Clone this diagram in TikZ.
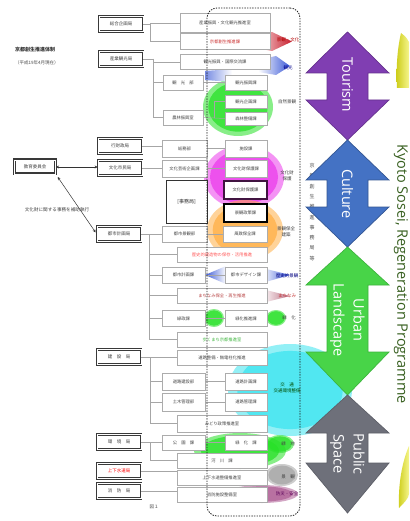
\documentclass[tikz,border=0pt]{standalone}
\usepackage{fontspec}
\setmainfont{Open Sans}
\newfontfamily\jp{Noto Sans CJK JP}
\usetikzlibrary{arrows.meta}
\definecolor{bgreen}{RGB}{40,225,40}
\definecolor{bmag}{RGB}{235,60,235}
\definecolor{borange}{RGB}{255,175,70}
\definecolor{bcyan}{RGB}{60,228,240}
\definecolor{bblue}{RGB}{60,90,215}
\definecolor{bred}{RGB}{200,30,45}
\definecolor{bpink}{RGB}{185,110,130}
\definecolor{bgray}{RGB}{165,165,165}
\definecolor{bpurple}{RGB}{175,95,150}
\definecolor{tourism}{RGB}{128,62,178}
\definecolor{culture}{RGB}{68,114,196}
\definecolor{urban}{RGB}{72,212,72}
\definecolor{public}{RGB}{110,112,122}
\definecolor{kyoto}{RGB}{56,96,32}
\definecolor{ylw}{RGB}{205,205,25}
\definecolor{ylwl}{RGB}{245,245,140}
\newcommand\myblob[4]{\fill[#1,opacity=.55] (#2) ellipse [x radius=#3, y radius=#4];
  \fill[#1,opacity=.75] (#2) ellipse [x radius=#3*0.85, y radius=#4*0.85];}
\begin{document}
\begin{tikzpicture}[x=1pt,y=-1pt,
  mbox/.style={draw=gray!65, line width=0.5pt, fill=white, inner sep=0pt, font=\jp\fontsize{4.3}{5}\selectfont, text=gray!55!black},
  wbox/.style={mbox, minimum width=90pt, minimum height=15pt},
  sbox/.style={mbox, minimum width=43pt, minimum height=16pt},
  rbox/.style={mbox, minimum width=42pt, minimum height=16pt},
  lbox/.style={draw=gray!45!black, line width=0.65pt, double=white, double distance=0.8pt, fill=white, minimum width=44pt, minimum height=15pt, inner sep=0pt, font=\jp\fontsize{4.5}{5}\selectfont, text=gray!50!black},
  conn/.style={draw=gray!70, line width=0.5pt},
  lab/.style={font=\jp\fontsize{4.5}{5.5}\selectfont, inner sep=0pt, align=center, text=black!75},
  bigarr/.style={line width=0.7pt},
  atext/.style={text=white, rotate=-90, font=\fontsize{14.5}{20}\selectfont, align=center, inner sep=0pt},
]
\fill[white] (0,0) rectangle (409,521);
\useasboundingbox (0,0) rectangle (409,521);

% yellow decorative shapes
\shade[left color=ylw, right color=ylwl] (401,33) .. controls (397,50) and (396,70) .. (397,88) -- (409,88) -- (409,42) .. controls (406,37) .. (401,33) -- cycle;
\shade[left color=ylw, right color=ylwl] (409,446) .. controls (402,462) and (398,485) .. (399,508) .. controls (403,504) and (409,498) .. (409,494) -- cycle;

% vertical japanese column
\node[lab, font=\jp\fontsize{5}{10.3}\selectfont, text=black!70] (vt) at (312,212) {京\\都\\創\\生\\推\\進\\事\\務\\局\\等};

% blobs
\myblob{bcyan}{290,390}{62}{46}
\myblob{bgreen}{240,451}{46}{18}
\myblob{bgreen}{280,444}{14}{9}
\myblob{bgray}{282,475}{16}{11}
\myblob{bpurple}{262,494}{36}{9}
\myblob{bmag}{244,177}{40}{32}
\myblob{borange}{245,230}{38}{30}
\myblob{bgreen}{238,107}{35}{29}
\myblob{bgreen}{214,318}{10}{9}
\myblob{bgreen}{276,318}{10}{8}
\shade[left color=white, right color=bred] (250,36) -- (272,32) -- (292,41.5) -- (272,51) -- (250,47) -- cycle;
\shade[left color=white, right color=bblue] (258,60) -- (276,56) -- (290,66) -- (276,75) -- (258,72) -- cycle;
\shade[left color=bblue!70, right color=white] (205,71) -- (232,69) -- (232,82) -- (205,80) -- cycle;
\shade[left color=bblue, right color=white] (205,275) -- (226,266) -- (226,284) -- cycle;
\shade[left color=white, right color=bblue] (262,268) -- (290,275) -- (262,283) -- cycle;
\shade[left color=white, right color=bpink] (262,289) -- (290,296) -- (262,303) -- cycle;

% left column boxes
\node[lbox] (L1) at (121,24) {総合企画局};
\node[lbox] (L2) at (121,59) {産業観光局};
\node[lbox] (L3) at (120,146) {行財政局};
\node[lbox] (L4) at (120,168) {文化市民局};
\node[lbox] (L5) at (119,234) {都市計画局};
\node[lbox] (L6) at (119,357) {建　設　局};
\node[lbox] (L7) at (119,442) {環　境　局};
\node[lbox, text=red] (L8) at (119,471) {上下水道局};
\node[lbox] (L9) at (119,491) {消　防　局};
\node[lbox, line width=1.1pt, minimum width=41pt, minimum height=14pt] (T) at (35,167) {教育委員会};

% middle boxes
\node[wbox, minimum height=19pt] (A) at (225,23) {産業振興・文化観光推進室};
\node[wbox, minimum height=16pt, text=red!60!gray] (B) at (225,41.5) {京都創生推進課};
\node[wbox] (C) at (225,62) {観光振興・国際交流課};
\node[sbox, minimum width=40pt, minimum height=15pt] (D) at (183,82.5) {観　光　部};
\node[rbox, minimum height=15pt] (E) at (246,82.5) {観光振興課};
\node[rbox, minimum height=13pt] (F) at (246,101.5) {観光企画課};
\node[sbox, minimum width=40pt, minimum height=15pt] (G) at (183,117.5) {農林振興室};
\node[rbox, minimum height=13pt] (H) at (246,118.5) {森林整備課};
\node[sbox, minimum width=45pt, minimum height=17pt] (R1l) at (184.5,148.5) {総務部};
\node[rbox, minimum height=17pt] (R1r) at (246,148.5) {施設課};
\node[sbox, minimum width=45pt, minimum height=17pt] (R2l) at (184.5,168.5) {文化芸術企画課};
\node[rbox, minimum height=17pt] (R2r) at (246,168.5) {文化財保護課};
\node[mbox, minimum width=41pt, minimum height=43pt, draw=gray!40!black, text=black!80, font=\jp\fontsize{5}{6}\selectfont] (J) at (186.5,201.5) {[事務局]};
\node[mbox, minimum width=43pt, minimum height=18pt, line width=1.4pt, draw={rgb,255:red,65;green,20;blue,65}] (K1) at (245.5,190) {文化財保護課};
\node[mbox, minimum width=43pt, minimum height=18pt, line width=1.4pt, draw=black] (K2) at (245.5,213) {景観政策課};
\node[sbox, minimum width=45pt] (R3l) at (184.5,234) {都市景観部};
\node[rbox, minimum width=44pt] (R3r) at (245,234) {風致保全課};
\node[wbox, text=red!65] (W1) at (222,254.5) {歴史的建造物の保存・活用推進};
\node[sbox] (R4l) at (183.5,275) {都市計画課};
\node[rbox] (R4r) at (246,275) {都市デザイン課};
\node[wbox, text=red!45!gray] (W2) at (222,295.5) {まちなみ保全・再生推進};
\node[sbox] (R5l) at (183.5,318.5) {緑政課};
\node[rbox] (R5r) at (246,318.5) {緑化推進課};
\node[wbox, text=green!45!gray] (W3) at (222,339.5) {歩くまち京都推進室};
\node[wbox] (W4) at (222,357.5) {道路整備・無電柱化推進};
\node[sbox, minimum height=17pt] (R6l) at (183.5,381.5) {道路建設部};
\node[rbox, minimum height=17pt] (R6r) at (246,381.5) {道路計画課};
\node[sbox, minimum height=18pt] (R7l) at (183.5,402) {土木管理部};
\node[rbox, minimum height=18pt] (R7r) at (246,402) {道路管理課};
\node[wbox, minimum height=17pt] (W5) at (222,423.5) {みどり政策推進室};
\node[sbox, minimum height=15pt] (R8l) at (183.5,442.5) {公　園　課};
\node[rbox, minimum height=15pt] (R8r) at (246,442.5) {緑　化　課};
\node[wbox] (W6) at (222,460.5) {河　川　課};
\node[wbox] (W7) at (222,477.5) {上下水道整備推進室};
\node[wbox] (W8) at (222,494.5) {消防施設整備室};

% connectors
\coordinate (s1) at (150,24);
\draw[conn] (L1.east) -- (s1) |- (B.west);
\draw[conn] (s1) |- (A.west);
\coordinate (s2) at (153,59);
\draw[conn] (L2.east) -- (s2) |- (G.west);
\draw[conn] (s2) |- (C.west);
\draw[conn] (s2) |- (D.west);
\draw[conn] (D.east) -- (E.west);
\draw[conn] (G.east) -- (H.west);
\coordinate (g2) at (214,118.5);
\draw[conn] (g2) |- (F.west);
\draw[conn] (L3.east) -- (L3.east -| R1l.west);
\draw[conn] (R1l.east) -- (R1r.west);
\draw[conn] (L4.east) -- (L4.east -| R2l.west);
\draw[conn] (R2l.east) -- (R2r.west);
\coordinate (s5) at (149,234);
\draw[conn] (L5.east) -- (L5.east -| R3l.west);
\draw[conn] (R3l.east) -- (R3r.west);
\draw[conn] (s5) |- (W3.west);
\draw[conn] (s5) |- (W1.west);
\draw[conn] (s5) |- (R4l.west);
\draw[conn] (s5) |- (W2.west);
\draw[conn] (s5) |- (R5l.west);
\draw[conn] (R4l.east) -- (R4r.west);
\draw[conn] (R5l.east) -- (R5r.west);
\coordinate (s6) at (150,357.5);
\draw[conn] (L6.east) -- (L6.east -| W4.west);
\draw[conn] (s6) |- (W5.west);
\draw[conn] (s6) |- (R6l.west);
\draw[conn] (s6) |- (R7l.west);
\draw[conn] (R6l.east) -- (R6r.west);
\draw[conn] (R7l.east) -- (R7r.west);
\coordinate (s7) at (150,442.5);
\draw[conn] (L7.east) -- (L7.east -| R8l.west);
\draw[conn] (s7) |- (W6.west);
\draw[conn] (R8l.east) -- (R8r.west);
\draw[conn] (L8.east) -- (L8.east -| W7.west);
\draw[conn] (L9.east) -- (L9.east -| W8.west);
\draw[conn, draw=gray!40!black, {Stealth[length=3pt,width=3pt]}-{Stealth[length=3pt,width=3pt]}] (T.east) -- (T.east -| L4.west);
\draw[conn, draw=gray!40!black, {Stealth[length=3pt,width=3pt]}-{Stealth[length=3pt,width=3pt]}, shorten <=3pt, shorten >=2pt] (T.south east) -- (L5.west);

% left texts
\node[lab, anchor=west, font=\jp\bfseries\fontsize{5}{6}\selectfont, text=black!80] (t1) at (15,50) {京都創生推進体制};
\node[lab, anchor=west, font=\jp\fontsize{4.5}{5.5}\selectfont, text=black!70] (t2) at (15,63) {（平成19年4月現在）};
\node[lab, font=\jp\fontsize{4.6}{5.5}\selectfont, text=black!75] (t3) at (57,210) {文化財に関する事務を補助執行};
\node[lab, text=black!70] (t4) at (154,507) {図１};

% right labels
\node[lab, text=red!70!black] (lb1) at (288,40) {景観・文化};
\node[lab, text=blue!55!black] (lb2) at (288,68) {観光};
\node[lab] (lb3) at (287,102) {自然景観};
\node[lab] (lb4) at (287,176) {文化財\\保護};
\node[lab] (lb5) at (286,232) {景観保全\\建築};
\node[lab, text=blue!50!black] (lb6) at (287,276) {歴史的景観};
\node[lab, text=red!55!gray] (lb7) at (287,296) {まちなみ};
\node[lab] (lb8) at (289,318) {緑　化};
\node[lab, text=green!30!black] (lb9) at (287,388) {交　通\\交通環境整備};
\node[lab] (lb10) at (288,444) {緑　地};
\node[lab] (lb11) at (288,477) {景　観};
\node[lab, text=violet!70!black] (lb12) at (287,494) {防災・安全};

% dashed zone
\node[draw=gray!25!black, line width=0.8pt, dash pattern=on 1.4pt off 1.2pt, rounded corners=10pt, minimum width=93pt, minimum height=508pt, inner sep=0pt] (zone) at (253.5,262) {};

% big double arrows
\draw[bigarr, fill=tourism, draw=tourism!80!black] (347.5,32) -- (389,73) -- (368,73) -- (368,100) -- (389,100) -- (347.5,140) -- (306,100) -- (327,100) -- (327,73) -- (306,73) -- cycle;
\draw[bigarr, fill=culture, draw=culture!75!black] (347.5,140) -- (389,180) -- (368,180) -- (368,207) -- (389,207) -- (347.5,247) -- (306,207) -- (327,207) -- (327,180) -- (306,180) -- cycle;
\draw[bigarr, fill=urban, draw=urban!85!black] (347.5,247) -- (389,285) -- (368,285) -- (368,352) -- (389,352) -- (347.5,395) -- (306,352) -- (327,352) -- (327,285) -- (306,285) -- cycle;
\draw[bigarr, fill=public, draw=public!85!black] (347.5,395) -- (389,433) -- (368,433) -- (368,463) -- (389,463) -- (347.5,513) -- (306,463) -- (327,463) -- (327,433) -- (306,433) -- cycle;
\node[atext] (a1) at (347.5,85) {Tourism};
\node[atext] (a2) at (347.5,194) {Culture};
\node[atext] (a3) at (347.5,320) {Urban\\Landscape};
\node[atext] (a4) at (347.5,454) {Public\\Space};

\node[rotate=-90, text=kyoto, font=\fontsize{14.5}{18}\selectfont, inner sep=0pt] (kt) at (401,274) {Kyoto Sosei, Regeneration Programme};
\end{tikzpicture}
\end{document}
